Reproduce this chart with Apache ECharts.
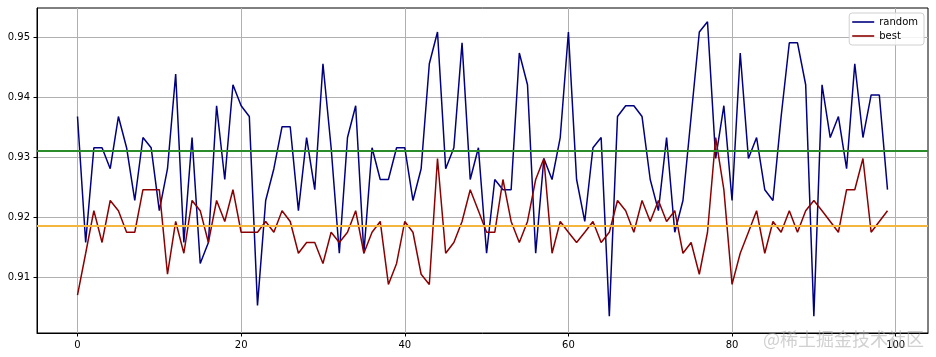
<!DOCTYPE html>
<html>
<head>
<meta charset="utf-8">
<script src="https://cdn.jsdelivr.net/npm/echarts@6/dist/echarts.min.js"></script>
<style>
html,body{margin:0;padding:0;background:#fff;}
#chart{width:936px;height:357px;}
</style>
</head>
<body>
<div id="chart"></div>
<script>
// x positions 0..99
const xIndex = [0,1,2,3,4,5,6,7,8,9,10,11,12,13,14,15,16,17,18,19,20,21,22,23,24,25,26,27,28,29,30,31,32,33,34,35,36,37,38,39,40,41,42,43,44,45,46,47,48,49,50,51,52,53,54,55,56,57,58,59,60,61,62,63,64,65,66,67,68,69,70,71,72,73,74,75,76,77,78,79,80,81,82,83,84,85,86,87,88,89,90,91,92,93,94,95,96,97,98,99];

const randomValues = [
  0.9368,0.9158,0.9316,0.9316,0.9281,0.9368,0.9316,0.9228,0.9333,0.9316,
  0.9211,0.9281,0.9439,0.9158,0.9333,0.9123,0.9158,0.9386,0.9263,0.9421,
  0.9386,0.9368,0.9053,0.9228,0.9281,0.9351,0.9351,0.9211,0.9333,0.9246,
  0.9456,0.9316,0.9140,0.9333,0.9386,0.9140,0.9316,0.9263,0.9263,0.9316,
  0.9316,0.9228,0.9281,0.9456,0.9509,0.9281,0.9316,0.9491,0.9263,0.9316,
  0.9140,0.9263,0.9246,0.9246,0.9474,0.9421,0.9140,0.9298,0.9263,0.9333,
  0.9509,0.9263,0.9193,0.9316,0.9333,0.9035,0.9368,0.9386,0.9386,0.9368,
  0.9263,0.9211,0.9333,0.9175,0.9228,0.9368,0.9509,0.9526,0.9298,0.9386,
  0.9228,0.9474,0.9298,0.9333,0.9246,0.9228,0.9368,0.9491,0.9491,0.9421,
  0.9035,0.9421,0.9333,0.9368,0.9281,0.9456,0.9333,0.9404,0.9404,0.9246
];

const bestValues = [
  0.9070,0.9140,0.9211,0.9158,0.9228,0.9211,0.9175,0.9175,0.9246,0.9246,
  0.9246,0.9105,0.9193,0.9140,0.9228,0.9211,0.9158,0.9228,0.9193,0.9246,
  0.9175,0.9175,0.9175,0.9193,0.9175,0.9211,0.9193,0.9140,0.9158,0.9158,
  0.9123,0.9175,0.9158,0.9175,0.9211,0.9140,0.9175,0.9193,0.9088,0.9123,
  0.9193,0.9175,0.9105,0.9088,0.9298,0.9140,0.9158,0.9193,0.9246,0.9211,
  0.9175,0.9175,0.9263,0.9193,0.9158,0.9193,0.9263,0.9298,0.9140,0.9193,
  0.9175,0.9158,0.9175,0.9193,0.9158,0.9175,0.9228,0.9211,0.9175,0.9228,
  0.9193,0.9228,0.9193,0.9211,0.9140,0.9158,0.9105,0.9175,0.9333,0.9246,
  0.9088,0.9140,0.9175,0.9211,0.9140,0.9193,0.9175,0.9211,0.9175,0.9211,
  0.9228,0.9211,0.9193,0.9175,0.9246,0.9246,0.9298,0.9175,0.9193,0.9211
];

const meanRandom = 0.9311;
const meanBest = 0.9186;

const xTicks = [0,20,40,60,80,100];
const yTicks = [0.91,0.92,0.93,0.94,0.95];
const seriesNames = ['random','best'];

const chart = echarts.init(document.getElementById('chart'), null, {renderer:'canvas'});
const font = 'DejaVu Sans';
const tickFont = {fontFamily: font, fontSize: 10, color: '#000'};

chart.setOption({
  animation: false,
  backgroundColor: '#fff',
  grid: {left: 37, right: 8, top: 8, bottom: 24, show: true, borderColor: '#000', borderWidth: 1, backgroundColor: 'transparent'},
  legend: {
    orient: 'vertical', right: 12, top: 13,
    data: seriesNames.map(n => ({name: n, icon: 'rect'})),
    itemWidth: 22, itemHeight: 1.6, itemGap: 2,
    backgroundColor: 'rgba(255,255,255,0.85)', borderColor: '#d0d0d0', borderWidth: 1, borderRadius: 3,
    padding: [3, 6, 3, 3],
    textStyle: {fontFamily: font, fontSize: 10, color: '#000', lineHeight: 12}
  },
  xAxis: {
    type: 'value', min: -4.95, max: 103.95,
    axisLine: {show: true, onZero: false, lineStyle: {color: '#000', width: 1}},
    axisTick: {show: true, length: 3.5, lineStyle: {color: '#000'}, customValues: xTicks},
    axisLabel: Object.assign({margin: 7, customValues: xTicks, formatter: v => String(v)}, tickFont),
    splitLine: {show: true, lineStyle: {color: '#b0b0b0', width: 1}}
  },
  yAxis: {
    type: 'value', min: 0.9007, max: 0.9549,
    axisLine: {show: true, onZero: false, lineStyle: {color: '#000', width: 1}},
    axisTick: {show: true, length: 3.5, lineStyle: {color: '#000'}, customValues: yTicks},
    axisLabel: Object.assign({margin: 7, customValues: yTicks, formatter: v => v.toFixed(2)}, tickFont),
    splitLine: {show: true, lineStyle: {color: '#b0b0b0', width: 1}}
  },
  series: [
    {
      name: seriesNames[0], type: 'line', symbol: 'none', showSymbol: false,
      data: xIndex.map((x, i) => [x, randomValues[i]]),
      lineStyle: {color: '#000080', width: 1.5}, itemStyle: {color: '#000080'},
      z: 3
    },
    {
      name: seriesNames[1], type: 'line', symbol: 'none', showSymbol: false,
      data: xIndex.map((x, i) => [x, bestValues[i]]),
      lineStyle: {color: '#8b0000', width: 1.5}, itemStyle: {color: '#8b0000'},
      z: 3,
      markLine: {
        silent: true, symbol: 'none', label: {show: false}, precision: 5,
        data: [
          {yAxis: meanRandom, lineStyle: {color: '#2a8c2a', width: 1.8, type: 'solid'}},
          {yAxis: meanBest, lineStyle: {color: '#f4b63c', width: 1.8, type: 'solid'}}
        ]
      }
    }
  ],
  graphic: [{
    type: 'text', right: 12, bottom: 9, z: 100,
    style: {text: '@稀土掘金技术社区', font: '18px "Noto Sans CJK SC"', fill: 'rgba(170,170,170,0.55)'}
  }]
});
</script>
</body>
</html>
